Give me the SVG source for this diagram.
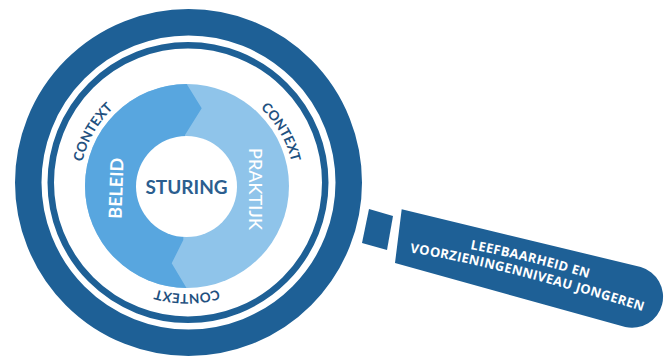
<svg xmlns="http://www.w3.org/2000/svg" width="665" height="358" viewBox="0 0 665 358">
  <style>
    .navy { fill: #1e6096; }
    .ring { fill: none; stroke: #1e6096; }
    .ctx { font-family: Lato, "Open Sans", "Liberation Sans", sans-serif; font-weight: 700; font-size: 13.5px; fill: #1f5180; }
    .seg { font-family: Lato, "Open Sans", "Liberation Sans", sans-serif; font-size: 18px; fill: #ffffff; text-anchor: middle; }
    .hnd { font-family: "Open Sans", Lato, "Liberation Sans", sans-serif; font-weight: 700; font-size: 13px; fill: #ffffff; letter-spacing: 0.35px; }
  </style>
  <defs>
    <path id="ctxPath" d="M280.10,240.25 A107.5,107.5 0 0 1 93.90,132.75 A107.5,107.5 0 0 1 280.10,240.25"/>
    <clipPath id="discClip"><circle cx="187" cy="186" r="102"/></clipPath>
    <path id="h1" d="M470,249 Q537,262 594,280"/>
    <path id="h2" d="M410,252.5 Q501,266.5 648,313"/>
  </defs>
  <rect width="665" height="358" fill="#ffffff"/>

  <g id="lens">
    <circle class="ring" cx="188.5" cy="182.5" r="160.25" stroke-width="26.5"/>
    <circle class="ring" cx="188" cy="182.5" r="137.25" stroke-width="6.5"/>
  </g>

  <g id="context-labels">
    <text class="ctx"><textPath href="#ctxPath" startOffset="16.667%" text-anchor="middle">CONTEXT</textPath></text>
    <text class="ctx"><textPath href="#ctxPath" startOffset="50%" text-anchor="middle">CONTEXT</textPath></text>
    <text class="ctx"><textPath href="#ctxPath" startOffset="83.333%" text-anchor="middle">CONTEXT</textPath></text>
  </g>

  <g id="cycle">
    <circle cx="187" cy="186" r="102" fill="#8fc4ea"/>
    <path clip-path="url(#discClip)" fill="#58a6df" d="M184.2,80 L201.7,108.3 L185,135 L183.3,240 L171.7,263.3 L188.9,292 L70,292 L70,80 Z"/>
  </g>

  <g id="beleid">
    <text class="seg" font-weight="700" transform="translate(122.5,188.5) rotate(-88)">BELEID</text>
  </g>

  <g id="praktijk">
    <text class="seg" font-weight="500" transform="translate(248.5,189) rotate(90)">PRAKTIJK</text>
  </g>

  <g id="sturing">
    <circle cx="186.5" cy="186.5" r="50.5" fill="#ffffff"/>
    <text x="186.5" y="193.5" text-anchor="middle" font-family="Lato, 'Open Sans', 'Liberation Sans', sans-serif" font-weight="700" font-size="19" fill="#2b5e8f">STURING</text>
  </g>

  <g id="connectors">
    <polygon class="navy" points="369,209 393,216 387,250 362,243"/>
  </g>

  <g id="handle">
    <path class="navy" d="M401.7,209.3 L640.75,267 A31,31 0 0 1 625.25,327 L395,263 Z"/>
    <text class="hnd"><textPath href="#h1">LEEFBAARHEID EN</textPath></text>
    <text class="hnd"><textPath href="#h2">VOORZIENINGENNIVEAU JONGEREN</textPath></text>
  </g>
</svg>
